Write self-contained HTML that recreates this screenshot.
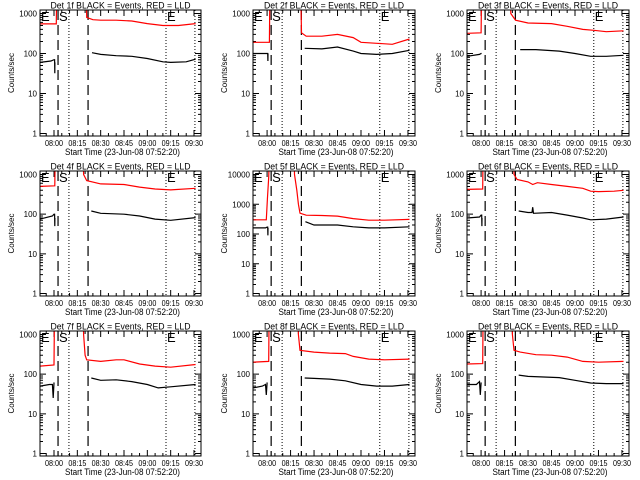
<!DOCTYPE html>
<html><head><meta charset="utf-8"><style>
html,body{margin:0;padding:0;background:#fff;}
svg{display:block;font-family:"Liberation Sans",sans-serif;}
</style></head><body>
<svg id="chart" width="640" height="480" viewBox="0 0 640 480" xmlns="http://www.w3.org/2000/svg"></svg>
<script>
// minutes relative to 08:00
const xTickMinutes = [0, 15, 30, 45, 60, 75, 90];
const xTickLabels = ["08:00", "08:15", "08:30", "08:45", "09:00", "09:15", "09:30"];
const dashedTimes = [2.6, 21.9];
const dottedTimes = [9.6, 72, 90.6];
const detNames = ["1f","2f","3f","4f","5f","6f","7f","8f","9f"];
const yMaxLog = [3,3,3,3,4,3,3,3,3];
const redPre = [
 [[-9,550],[1.5,550],[2,3e4]],
 [[-9,190],[1.5,190],[2,3e4]],
 [[-9,320],[0,330],[0.6,3e4]],
 [[-9,500],[0.5,520],[1,3e4]],
 [[-9,300],[-0.5,300],[0.2,1500],[1,8000],[2,3e5]],
 [[-9,420],[1,430],[1.5,3e4]],
 [[-9,160],[0,170],[0.5,3e4]],
 [[-9,200],[1,210],[1.5,3e4]],
 [[-9,180],[1,185],[1.5,3e4]]
];
const redPost = [
 [[20.5,3e4],[21,800],[25,700],[30,680],[40,680],[50,650],[60,560],[70,500],[80,500],[91,560]],
 [[21,3e4],[22,330],[25,270],[35,270],[45,300],[55,250],[60,190],[70,180],[80,170],[91,230]],
 [[18.5,3e4],[19,1000],[22,680],[30,580],[45,560],[55,480],[65,400],[72,380],[80,350],[91,370]],
 [[18.5,3e4],[19,1000],[21,700],[30,580],[45,560],[55,480],[65,430],[75,410],[91,450]],
 [[17,3e5],[17.5,10000],[19,3000],[20,1000],[21,500],[25,430],[35,420],[45,400],[55,330],[65,290],[75,290],[91,310]],
 [[20.5,3e4],[21,1000],[23,750],[30,650],[33,560],[36,620],[45,560],[55,500],[65,450],[70,380],[75,370],[85,380],[91,400]],
 [[18.5,3e4],[19,1000],[20,300],[21,230],[30,210],[40,230],[45,230],[55,180],[65,160],[75,150],[91,175]],
 [[19.5,3e4],[20,1000],[21,400],[30,360],[40,340],[50,330],[55,280],[65,240],[75,230],[91,240]],
 [[19.5,3e4],[20,1000],[21,400],[25,360],[35,310],[45,300],[55,270],[65,210],[75,200],[91,210]]
];
const blackPre = [
 [[-9,60],[-2,65],[0,70],[0.4,70],[0.5,32],[0.6,60]],
 [[-9,100],[-1,100],[0.4,100],[0.5,65],[0.6,100]],
 [[-9,85],[-1,95],[0,100],[0.3,100]],
 [[-9,75],[-1,90],[0,100],[0.4,100],[0.5,50],[0.6,80]],
 [[-9,160],[-1,160],[0,170],[0.4,170],[0.5,90],[0.6,160]],
 [[-9,80],[-1,85],[0,95],[0.4,95],[0.5,50],[0.6,80]],
 [[-9,50],[-3,55],[-1,55],[-0.5,25],[0,60],[0.3,60]],
 [[-9,45],[-3,50],[-1,55],[-0.5,30],[0,60],[0.3,60]],
 [[-9,55],[-3,55],[-1,65],[-0.5,30],[0,60],[0.3,60]]
];
const blackPost = [
 [[24.4,105],[30,95],[40,88],[50,85],[60,75],[70,62],[75,60],[85,62],[91,72]],
 [[24,135],[35,130],[45,145],[55,115],[60,100],[70,95],[80,100],[91,120]],
 [[25,125],[35,125],[50,115],[60,100],[70,85],[80,85],[91,90]],
 [[24,120],[30,105],[45,100],[55,90],[65,75],[75,70],[91,82]],
 [[24.5,260],[30,200],[45,200],[55,175],[65,160],[75,160],[91,175]],
 [[24,120],[30,110],[32.5,110],[33,150],[33.5,105],[45,110],[55,95],[65,80],[70,72],[80,75],[91,85]],
 [[24,80],[30,70],[40,72],[50,65],[60,55],[67,45],[75,48],[91,55]],
 [[24,80],[30,78],[40,75],[50,68],[60,55],[70,50],[80,50],[91,55]],
 [[24,95],[30,88],[40,85],[50,82],[60,70],[70,60],[80,58],[91,58]]
];

const NS="http://www.w3.org/2000/svg";
const svg=document.getElementById('chart');
function mk(tag,attrs,parent){const e=document.createElementNS(NS,tag);for(const k in attrs)e.setAttribute(k,attrs[k]);(parent||svg).appendChild(e);return e;}
const colL=[40,253,467], colR=[201,415,629], rowT=[10,171,331], rowB=[136,296,456];
const XMIN=-9, XMAX=94.5;

detNames.forEach((dn,i)=>{
  const c=i%3, r=Math.floor(i/3);
  const L=colL[c],R=colR[c],T=rowT[r],B=rowB[r];
  const top=yMaxLog[i];
  const ppd=(B-T-6)/top;
  const lmin=-2.5/ppd, lmax=top+3.5/ppd;
  const xs=t=>L+(t-XMIN)/(XMAX-XMIN)*(R-L);
  const ys=v=>B-(Math.log10(v)-lmin)/(lmax-lmin)*(B-T);
  const g=mk('g',{});
  
  
  const cid='clip'+i;
  const cp=mk('clipPath',{id:cid},g);mk('rect',{x:L,y:T,width:R-L,height:B-T},cp);
  const tt=mk('text',{x:(L+R)/2,y:T-1.5,'text-anchor':'middle','font-size':'9',textLength:'140',lengthAdjust:'spacingAndGlyphs'},g);
  tt.textContent='Det '+dn+' BLACK = Events, RED = LLD';
  
  
  const yt=mk('text',{x:0,y:0,'text-anchor':'middle','font-size':'8',transform:`translate(${L-26},${(T+B)/2}) rotate(-90)`},g);
  yt.textContent='Counts/sec';
  
  
  const xt=mk('text',{x:(L+R)/2+2,y:B+19,'text-anchor':'middle','font-size':'9',textLength:'115',lengthAdjust:'spacingAndGlyphs'},g);
  xt.textContent='Start Time (23-Jun-08 07:52:20)';
  
  
  let tp='';
  for(let d=0;d<=top;d++){
    const y=ys(Math.pow(10,d));
    tp+=`M${L},${y}h6M${R},${y}h-6`;
    const lb=mk('text',{x:L-3,y:y+3,'text-anchor':'end','font-size':'8'},g);
    lb.textContent=String(Math.pow(10,d));
    
    
    if(d<top){for(let m=2;m<=9;m++){const ym=ys(m*Math.pow(10,d));tp+=`M${L},${ym}h3M${R},${ym}h-3`;}}
  }
  for(let m=-5;m<=90;m+=5){
    const x=xs(m); if(x<L||x>R)continue;
    const len=(m%15===0)?6:3;
    tp+=`M${x},${B}v-${len}M${x},${T}v${len}`;
  }
  const ticks=mk('path',{d:tp,stroke:'#000','stroke-width':'1',fill:'none'},g);
  
  
  xTickMinutes.forEach((m,k)=>{
    const lb=mk('text',{x:xs(m),y:B+10,'text-anchor':'middle','font-size':'8',textLength:'18',lengthAdjust:'spacingAndGlyphs'},g);
    lb.textContent=xTickLabels[k];
    
    
  });
  dashedTimes.forEach(t=>{
    const ln=mk('line',{x1:xs(t),x2:xs(t),y1:T,y2:B,stroke:'#000','stroke-width':'1.2','stroke-dasharray':'10,5'},g);
    
    
  });
  dottedTimes.forEach(t=>{
    const ln=mk('line',{x1:xs(t),x2:xs(t),y1:T,y2:B,stroke:'#000','stroke-width':'1','stroke-dasharray':'1,2'},g);
    
    
  });
  const drawLine=(pts,col,name)=>{
    const d=pts.map((p,k)=>(k?'L':'M')+xs(p[0]).toFixed(1)+','+ys(p[1]).toFixed(1)).join('');
    const pa=mk('path',{d:d,stroke:col,'stroke-width':'1.2',fill:'none','clip-path':`url(#${cid})`},g);
    
    
  };
  drawLine(redPre[i],'#ff0000','lld-rate-pre');
  drawLine(redPost[i],'#ff0000','lld-rate-post');
  drawLine(blackPre[i],'#000000','event-rate-pre');
  drawLine(blackPost[i],'#000000','event-rate-post');
  const lbl=[[L+1,'E'],[xs(dashedTimes[0])+1,'S'],[xs(dottedTimes[1])+1,'E']];
  lbl.forEach(p=>{
    const tx=mk('text',{x:p[0],y:T+11,'font-size':'13'},g);
    tx.textContent=p[1];
    
    
  });
  const fr=mk('rect',{x:L,y:T,width:R-L,height:B-T,fill:'none',stroke:'#000','stroke-width':'1'},g);
  
  
});
</script>
</body></html>
